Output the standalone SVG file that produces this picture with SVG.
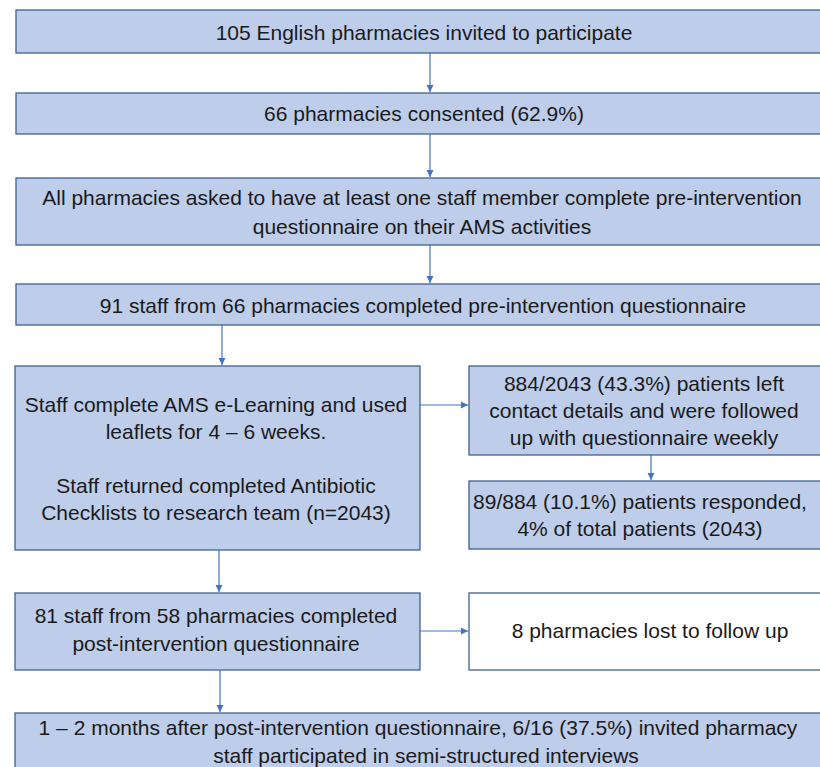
<svg xmlns="http://www.w3.org/2000/svg" width="820" height="767" viewBox="0 0 820 767">
<style>
.b{fill:#bdcdea;stroke:#41618f;stroke-width:1.3}
.w{fill:#ffffff;stroke:#41618f;stroke-width:1.3}
text{font-family:"Liberation Sans",Arial,sans-serif;font-size:21px;fill:#1a1a1a;text-anchor:middle}
.c{stroke:#4472c4;stroke-width:1.2;fill:none;marker-end:url(#ah)}
</style>
<defs>
<marker id="ah" markerWidth="8" markerHeight="8" refX="7" refY="4" orient="auto" markerUnits="userSpaceOnUse">
<path d="M0,0.5 L7,4 L0,7.5 Z" fill="#4472c4"/>
</marker>
</defs>
<rect width="820" height="767" fill="#ffffff"/>
<g id="n1"><rect class="b" x="16" y="10" width="820" height="43"/><text x="424" y="40">105 English pharmacies invited to participate</text></g>
<g id="n2"><rect class="b" x="16" y="93" width="820" height="41"/><text x="424" y="121">66 pharmacies consented (62.9%)</text></g>
<g id="n3"><rect class="b" x="16" y="178" width="820" height="67"/><text x="422" y="205">All pharmacies asked to have at least one staff member complete pre-intervention</text><text x="422" y="234">questionnaire on their AMS activities</text></g>
<g id="n4"><rect class="b" x="16" y="284" width="820" height="41"/><text x="423" y="313">91 staff from 66 pharmacies completed pre-intervention questionnaire</text></g>
<g id="n5"><rect class="b" x="15" y="366" width="405" height="184"/><text x="216" y="412">Staff complete AMS e-Learning and used</text><text x="216" y="439">leaflets for 4 – 6 weeks.</text><text x="216" y="493">Staff returned completed Antibiotic</text><text x="216" y="520">Checklists to research team (n=2043)</text></g>
<g id="n6"><rect class="b" x="469" y="366" width="366" height="89"/><text x="644" y="391">884/2043 (43.3%) patients left</text><text x="644" y="418">contact details and were followed</text><text x="644" y="445">up with questionnaire weekly</text></g>
<g id="n7"><rect class="b" x="469" y="481" width="366" height="68"/><text x="640" y="509">89/884 (10.1%) patients responded,</text><text x="640" y="536">4% of total patients (2043)</text></g>
<g id="n8"><rect class="b" x="15" y="593" width="405" height="77"/><text x="216" y="623">81 staff from 58 pharmacies completed</text><text x="216" y="651">post-intervention questionnaire</text></g>
<g id="n9"><rect class="w" x="469" y="593" width="366" height="77"/><text x="650" y="638">8 pharmacies lost to follow up</text></g>
<g id="n10"><rect class="b" x="15" y="713" width="820" height="70"/><text x="418" y="735">1 – 2 months after post-intervention questionnaire, 6/16 (37.5%) invited pharmacy</text><text x="426" y="763">staff participated in semi-structured interviews</text></g>
<g id="connectors">
<line class="c" x1="430" y1="53" x2="430" y2="92"/>
<line class="c" x1="430" y1="134" x2="430" y2="177"/>
<line class="c" x1="430" y1="245" x2="430" y2="283"/>
<line class="c" x1="222" y1="325" x2="222" y2="365"/>
<line class="c" x1="420" y1="405" x2="468" y2="405"/>
<line class="c" x1="651" y1="455" x2="651" y2="480"/>
<line class="c" x1="219" y1="550" x2="219" y2="592"/>
<line class="c" x1="420" y1="631" x2="468" y2="631"/>
<line class="c" x1="220" y1="670" x2="220" y2="712"/>
</g>
</svg>
